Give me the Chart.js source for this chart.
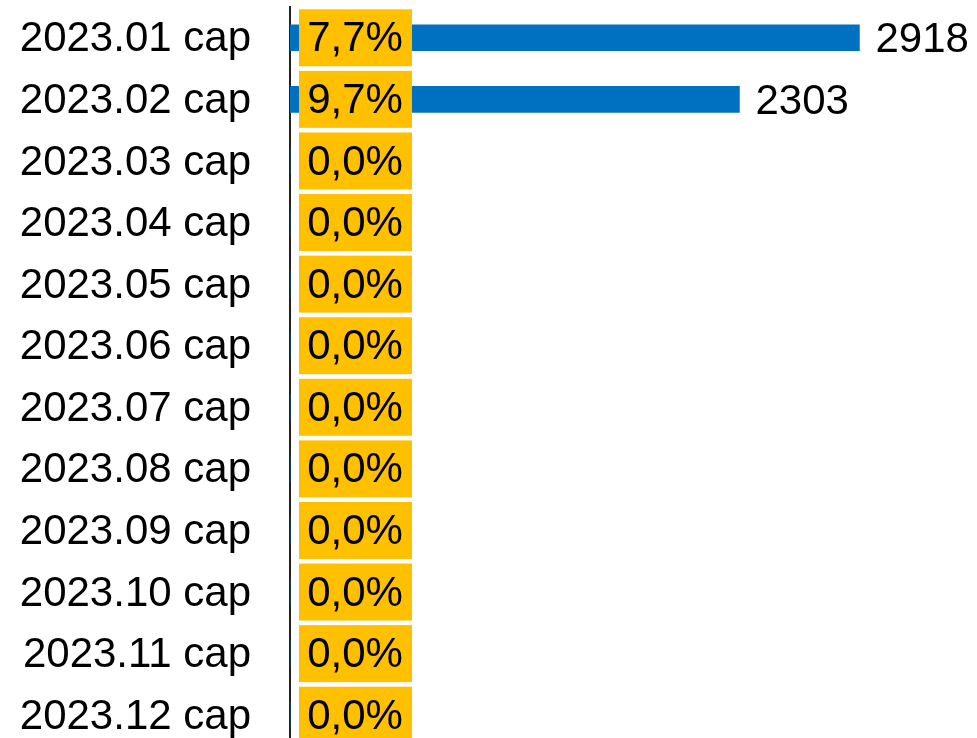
<!DOCTYPE html>
<html>
<head>
<meta charset="utf-8">
<script src="https://cdn.jsdelivr.net/npm/chart.js@4"></script>
<style>
    body { margin: 0; overflow: hidden; background: #fff; }
</style>
</head>
<body>
<canvas id="grafico" width="977" height="750"></canvas>
<script>
const categorias = [
    "2023.01 cap", "2023.02 cap", "2023.03 cap", "2023.04 cap",
    "2023.05 cap", "2023.06 cap", "2023.07 cap", "2023.08 cap",
    "2023.09 cap", "2023.10 cap", "2023.11 cap", "2023.12 cap"
];
const valores = [2918, 2303, 0, 0, 0, 0, 0, 0, 0, 0, 0, 0];
const porcentajes = [7.7, 9.7, 0, 0, 0, 0, 0, 0, 0, 0, 0, 0];

const fuente = '"Liberation Sans", Arial, sans-serif';

// numeros al final de las barras
const etiquetasValor = {
    id: 'etiquetasValor',
    afterDatasetsDraw(chart) {
        const ctx = chart.ctx;
        const meta = chart.getDatasetMeta(0);
        ctx.save();
        ctx.font = '42px ' + fuente;
        ctx.fillStyle = '#000';
        ctx.textAlign = 'left';
        ctx.textBaseline = 'middle';
        meta.data.forEach((barra, i) => {
            if (!valores[i]) return;
            ctx.fillText(String(valores[i]), barra.x + 16, barra.y + 3);
        });
        ctx.restore();
    }
};

// cajas amarillas con el porcentaje
const cajasPorcentaje = {
    id: 'cajasPorcentaje',
    afterDatasetsDraw(chart) {
        const ctx = chart.ctx;
        const y = chart.scales.y;
        const izq = chart.chartArea.left;
        const alto = y.getPixelForValue(1) - y.getPixelForValue(0);
        ctx.save();
        ctx.font = '42px ' + fuente;
        ctx.textAlign = 'center';
        ctx.textBaseline = 'middle';
        porcentajes.forEach((p, i) => {
            const cy = y.getPixelForValue(i);
            const h = alto * 0.925;
            ctx.fillStyle = '#FFC000';
            ctx.fillRect(izq + 9, cy - h / 2, 113, h);
            ctx.fillStyle = '#000';
            ctx.fillText(p.toFixed(1).replace('.', ',') + '%', izq + 65, cy + 2);
        });
        ctx.restore();
    }
};

new Chart(document.getElementById('grafico'), {
    type: 'bar',
    data: {
        labels: categorias,
        datasets: [{
            data: valores,
            backgroundColor: '#0070C0',
            barThickness: 26
        }]
    },
    options: {
        indexAxis: 'y',
        responsive: false,
        animation: false,
        layout: { padding: { top: 7, bottom: 4, right: 4, left: 0 } },
        plugins: {
            legend: { display: false },
            tooltip: { enabled: false }
        },
        scales: {
            x: {
                display: false,
                min: 0,
                max: 3500
            },
            y: {
                afterFit(scale) {
                    scale.width = 290;
                    scale.paddingTop = 0;
                    scale.paddingBottom = 0;
                },
                grid: { display: false },
                border: { display: true, color: '#222', width: 2 },
                ticks: {
                    color: '#000',
                    padding: 31,
                    labelOffset: 2,
                    font: { family: fuente, size: 42 }
                }
            }
        }
    },
    plugins: [etiquetasValor, cajasPorcentaje]
});
</script>
</body>
</html>
